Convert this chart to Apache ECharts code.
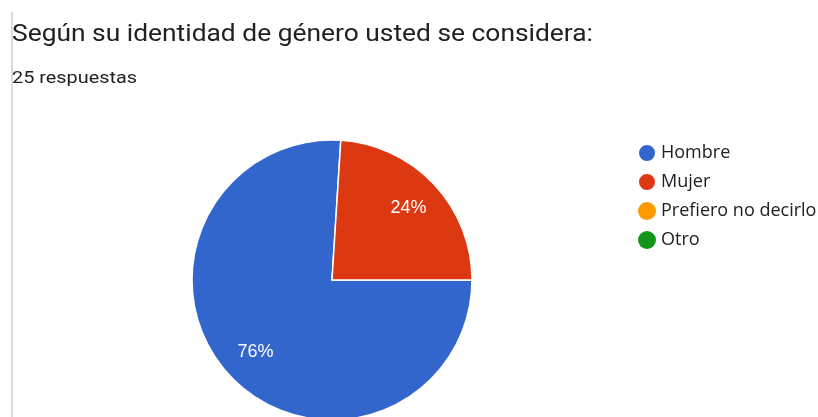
<!DOCTYPE html>
<html>
<head>
<meta charset="utf-8">
<script src="https://cdn.jsdelivr.net/npm/echarts@6/dist/echarts.min.js"></script>
<style>
html,body{margin:0;padding:0;background:#fff;}
#c{width:818px;height:417px;}
</style>
</head>
<body>
<div id="c"></div>
<script>
const titleText = 'Según su identidad de género usted se considera:';
const subtitleText = '25 respuestas';
const categories = ['Hombre', 'Mujer', 'Prefiero no decirlo', 'Otro'];
const counts = [19, 6, 0, 0];
const colors = ['#3366cc', '#dc3912', '#ff9900', '#109618'];

function measure(text, font) {
  const ctx = document.createElement('canvas').getContext('2d');
  ctx.font = font;
  return ctx.measureText(text).width;
}
const titleFont = '23px Roboto';
const subFont = '16.5px Roboto';
const titleScale = 581 / measure(titleText, titleFont);
const subScale = 125 / measure(subtitleText, subFont);

const chart = echarts.init(document.getElementById('c'));
const mainData = categories.map((n, i) => ({
  name: n, value: counts[i],
  itemStyle: { color: colors[i], borderWidth: counts[i] > 0 ? 1.5 : 0 }
}));
const labelData = categories.map((n, i) => ({
  name: n, value: counts[i],
  label: { show: counts[i] > 0 }
}));
chart.setOption({
  animation: false,
  graphic: [
    { type: 'line', shape: { x1: 12, y1: 12, x2: 12, y2: 417 },
      style: { stroke: '#dadce0', lineWidth: 2 }, silent: true },
    { type: 'text', x: 12, y: 35, scaleX: titleScale, silent: true,
      style: { text: titleText, fontFamily: 'Roboto', fontSize: 23, fill: '#202124',
               align: 'left', verticalAlign: 'middle' } },
    { type: 'text', x: 12, y: 79, scaleX: subScale, silent: true,
      style: { text: subtitleText, fontFamily: 'Roboto', fontSize: 16.5, fill: '#202124',
               align: 'left', verticalAlign: 'middle' } }
  ],
  legend: {
    orient: 'vertical', left: 632, top: 136,
    icon: 'circle', itemWidth: 18, itemHeight: 18, itemGap: 5,
    textStyle: { fontFamily: 'Open Sans', fontSize: 18, color: '#202124', lineHeight: 24 },
    data: categories.map((n, i) => ({ name: n, itemStyle: { color: colors[i] } }))
  },
  series: [
    {
      type: 'pie', center: [332, 280], radius: 140,
      startAngle: 0, clockwise: true, silent: true,
      avoidLabelOverlap: false,
      itemStyle: { borderColor: '#ffffff' },
      label: { show: false }, labelLine: { show: false },
      data: mainData
    },
    {
      type: 'pie', center: [332, 280], radius: 204,
      startAngle: 0, clockwise: true, silent: true,
      avoidLabelOverlap: false,
      legendHoverLink: false,
      itemStyle: { color: 'rgba(0,0,0,0)', borderWidth: 0 },
      label: { position: 'inside', formatter: '{d}%', color: '#ffffff',
               fontFamily: 'Liberation Sans', fontSize: 18 },
      labelLine: { show: false },
      data: labelData
    }
  ]
});
</script>
</body>
</html>
